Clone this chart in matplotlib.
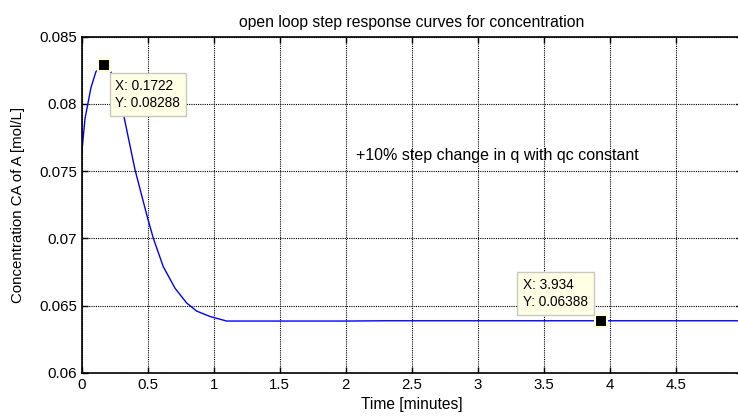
import matplotlib
matplotlib.use('Agg')
import matplotlib.pyplot as plt

plt.rcParams['font.family'] = ['Liberation Sans', 'DejaVu Sans']

# response (minutes, mol/L)
t = [0, 0.025, 0.07, 0.108, 0.1722, 0.22, 0.26, 0.315, 0.404, 0.497, 0.543,
     0.618, 0.707, 0.795, 0.871, 0.972, 1.098, 2.0, 2.3, 3.0, 3.934, 4.5, 5.0]
ca = [0.0763, 0.0789, 0.0812, 0.0824, 0.08288, 0.0824, 0.0812, 0.0793, 0.0751,
      0.0716, 0.0700, 0.0679, 0.0663, 0.0652, 0.0646, 0.0642, 0.06386, 0.06386,
      0.06388, 0.06388, 0.06388, 0.06388, 0.06388]

tips = [(0.1722, 0.08288), (3.934, 0.06388)]
tip_offsets = [(11, -14), (-78, 43)]

xticks = [0, 0.5, 1, 1.5, 2, 2.5, 3, 3.5, 4, 4.5, 5]
yticks = [0.06, 0.065, 0.07, 0.075, 0.08, 0.085]

fig = plt.figure(figsize=(7.38, 4.18), dpi=100)
ax = fig.add_axes([0.1107, 0.1077, 0.8943, 0.8047])

ax.plot(t, ca, color='#0000ff', lw=1.0)
ax.set_xlim(0, 5)
ax.set_ylim(0.06, 0.085)
ax.set_xticks(xticks)
ax.set_xticklabels(['0', '0.5', '1', '1.5', '2', '2.5', '3', '3.5', '4', '4.5', '5'])
ax.set_yticks(yticks)
ax.set_yticklabels(['0.06', '0.065', '0.07', '0.075', '0.08', '0.085'])
ax.tick_params(direction='in', top=True, right=True, labelsize=10.8, length=4, width=1)
ax.grid(True, color='k', linestyle=(0, (1, 1)), lw=0.8)
for s in ax.spines.values():
    s.set_linewidth(1.2)

ax.set_title('open loop step response curves for concentration', fontsize=11.3, pad=7)
ax.set_xlabel('Time [minutes]', fontsize=11.2, labelpad=4)
ax.set_ylabel('Concentration CA of A [mol/L]', fontsize=10.8, labelpad=10)

ax.text(2.078, 0.0762, '+10% step change in q with qc constant', fontsize=11.5, va='center')

for (x, y), off in zip(tips, tip_offsets):
    ax.plot([x], [y], marker='s', ms=8, mfc='k', mec='#ffffd8', mew=1.5, zorder=5)
    ax.annotate('X: %s\nY: %s' % (x, y), xy=(x, y), xytext=off,
                textcoords='offset pixels', ha='left', va='top', fontsize=9.8,
                linespacing=1.3,
                bbox=dict(boxstyle='square,pad=0.42', fc='#ffffe6', ec='#c8c8c0', lw=1),
                zorder=6)

fig.savefig('out.png', dpi=100)
